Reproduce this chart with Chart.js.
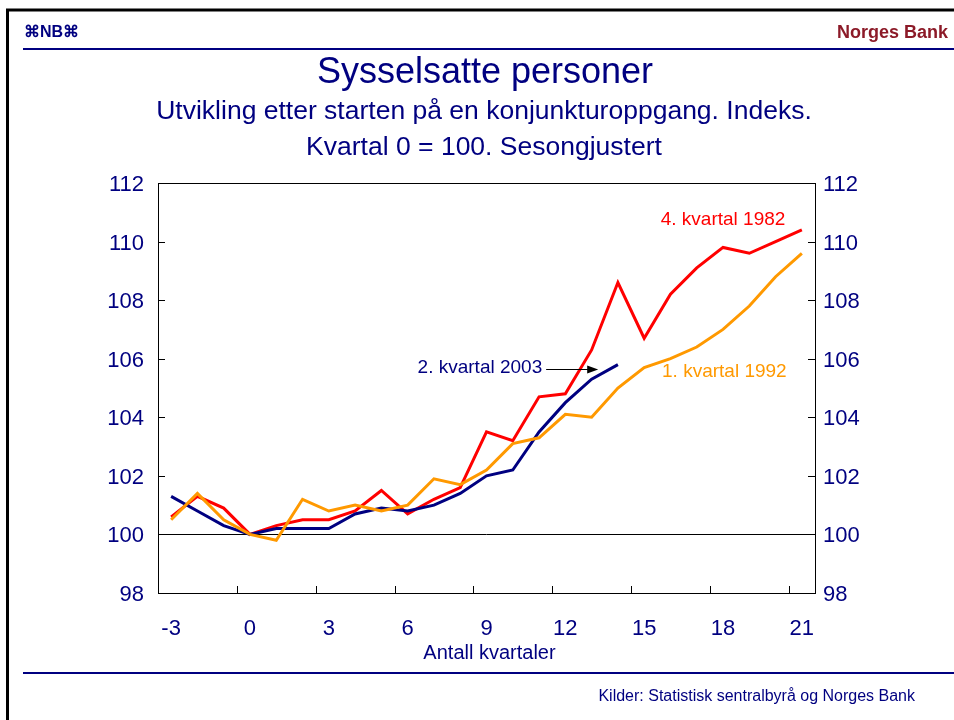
<!DOCTYPE html>
<html>
<head>
<meta charset="utf-8">
<script src="https://cdn.jsdelivr.net/npm/chart.js@4"></script>
<style>
  html, body { margin: 0; padding: 0; background: #fff; }
  #wrap { width: 954px; height: 720px; }
</style>
</head>
<body>
<div id="wrap"><canvas id="chart" width="954" height="720"></canvas></div>
<script>
/* eslint-disable no-undef */
const quarters = ['-3', '-2', '-1', '0', '1', '2', '3', '4', '5', '6', '7', '8', '9', '10',
  '11', '12', '13', '14', '15', '16', '17', '18', '19', '20', '21'];
const q4_1982 = [100.6, 101.3, 100.9, 100, 100.3, 100.5, 100.5, 100.8, 101.5, 100.7, 101.2, 101.6,
  103.5, 103.2, 104.7, 104.8, 106.3, 108.6, 106.7, 108.2, 109.1, 109.8, 109.6, 110.0, 110.4];
const q1_1992 = [100.5, 101.4, 100.5, 100, 99.8, 101.2, 100.8, 101.0, 100.8, 101.0, 101.9, 101.7,
  102.2, 103.1, 103.3, 104.1, 104.0, 105.0, 105.7, 106.0, 106.4, 107.0, 107.8, 108.8, 109.6];
const q2_2003 = [101.3, 100.8, 100.3, 100, 100.2, 100.2, 100.2, 100.7, 100.9, 100.8, 101.0, 101.4,
  102.0, 102.2, 103.5, 104.5, 105.3, 105.8];
const yMin = 98;
const yMax = 112;
const yStep = 2;

const navy = '#000080';
const font = '"Liberation Sans", Arial, sans-serif';

// series labels placed in data units (category index, value)
const seriesLabels = [
  { text: '4. kvartal 1982', x: 21, y: 110.75, color: '#ff0000', align: 'center' },
  { text: '1. kvartal 1992', x: 21.05, y: 105.55, color: '#ff9900', align: 'center' },
  { text: '2. kvartal 2003', x: 14.12, y: 105.7, color: navy, align: 'right' },
];
const arrow = { from: 14.27, to: 16.25, y: 105.66 };

const decor = {
  id: 'decor',
  beforeDraw(chart) {
    const ctx = chart.ctx;
    ctx.save();
    ctx.fillStyle = '#fff';
    ctx.fillRect(0, 0, chart.width, chart.height);
    ctx.restore();
  },
  beforeDatasetsDraw(chart) {
    const { ctx, chartArea: a, scales } = chart;
    const y100 = scales.y.getPixelForValue(100);
    ctx.save();
    ctx.strokeStyle = '#000';
    ctx.lineWidth = 1;
    ctx.beginPath();
    ctx.moveTo(a.left, Math.round(y100) + 0.5);
    ctx.lineTo(a.right, Math.round(y100) + 0.5);
    ctx.stroke();
    ctx.restore();
  },
  afterDraw(chart) {
    const { ctx, chartArea: a, scales } = chart;
    const xs = scales.x;
    const ys = scales.y;
    ctx.save();

    // plot frame
    ctx.strokeStyle = '#000';
    ctx.lineWidth = 1;
    ctx.strokeRect(Math.round(a.left) + 0.5, Math.round(a.top) + 0.5,
      Math.round(a.right - a.left), Math.round(a.bottom - a.top));

    // inward tick marks
    ctx.beginPath();
    ys.ticks.forEach((t) => {
      const py = Math.round(ys.getPixelForValue(t.value)) + 0.5;
      ctx.moveTo(a.left, py); ctx.lineTo(a.left + 7, py);
      ctx.moveTo(a.right, py); ctx.lineTo(a.right - 7, py);
    });
    for (let i = 1; i < quarters.length; i++) {
      if (Number(quarters[i]) % 3 !== 0) continue;
      const px = Math.round((xs.getPixelForValue(i - 1) + xs.getPixelForValue(i)) / 2) + 0.5;
      ctx.moveTo(px, a.bottom); ctx.lineTo(px, a.bottom - 7);
    }
    ctx.stroke();

    // series labels
    ctx.font = '19px ' + font;
    ctx.textBaseline = 'middle';
    seriesLabels.forEach((l) => {
      ctx.fillStyle = l.color;
      ctx.textAlign = l.align;
      ctx.fillText(l.text, xs.getPixelForValue(l.x), ys.getPixelForValue(l.y));
    });

    // arrow to the 2003 line
    const ax0 = xs.getPixelForValue(arrow.from);
    const ax1 = xs.getPixelForValue(arrow.to);
    const ay = Math.round(ys.getPixelForValue(arrow.y)) + 0.5;
    ctx.strokeStyle = '#000';
    ctx.beginPath();
    ctx.moveTo(ax0, ay); ctx.lineTo(ax1 - 8, ay);
    ctx.stroke();
    ctx.fillStyle = '#000';
    ctx.beginPath();
    ctx.moveTo(ax1, ay); ctx.lineTo(ax1 - 11, ay - 4); ctx.lineTo(ax1 - 11, ay + 4);
    ctx.closePath();
    ctx.fill();

    // page frame
    ctx.lineWidth = 3;
    ctx.beginPath();
    ctx.moveTo(7.5, 720); ctx.lineTo(7.5, 10); ctx.lineTo(954, 10);
    ctx.stroke();

    // header / footer rules
    ctx.strokeStyle = navy;
    ctx.lineWidth = 2;
    ctx.beginPath();
    ctx.moveTo(23, 49); ctx.lineTo(954, 49);
    ctx.moveTo(23, 673); ctx.lineTo(954, 673);
    ctx.stroke();

    // header texts
    ctx.textBaseline = 'middle';
    ctx.textAlign = 'left';
    ctx.fillStyle = navy;
    ctx.font = 'bold 16px ' + font;
    ctx.fillText('⌘NB⌘', 24, 33);
    ctx.textAlign = 'right';
    ctx.fillStyle = '#8c1a28';
    ctx.font = 'bold 18px ' + font;
    ctx.fillText('Norges Bank', 948, 33);

    // titles
    ctx.textAlign = 'center';
    ctx.fillStyle = navy;
    ctx.font = '36px ' + font;
    ctx.fillText('Sysselsatte personer', 485, 73);
    ctx.font = '26.5px ' + font;
    ctx.fillText('Utvikling etter starten på en konjunkturoppgang. Indeks.', 484, 112);
    ctx.fillText('Kvartal 0 = 100. Sesongjustert', 484, 148);

    // axis title and source
    ctx.font = '20px ' + font;
    ctx.fillText('Antall kvartaler', (a.left + a.right) / 2 + 3, 653);
    ctx.textAlign = 'right';
    ctx.font = '16px ' + font;
    ctx.fillText('Kilder: Statistisk sentralbyrå og Norges Bank', 915, 697);

    ctx.restore();
  },
};

const yAxis = (position, width, pad) => ({
  type: 'linear',
  position: position,
  min: yMin,
  max: yMax,
  ticks: {
    stepSize: yStep,
    padding: pad,
    labelOffset: 2,
    color: navy,
    font: { family: font, size: 22 },
  },
  grid: { display: false, drawTicks: false },
  border: { display: true, color: '#000', width: 1 },
  afterFit: (scale) => { scale.width = width; },
});

new Chart(document.getElementById('chart'), {
  type: 'line',
  data: {
    labels: quarters,
    datasets: [
      {
        label: '1. kvartal 1992',
        data: q1_1992,
        borderColor: '#ff9900',
        yAxisID: 'y',
      },
      {
        label: '2. kvartal 2003',
        data: q2_2003,
        borderColor: navy,
        yAxisID: 'y',
      },
      {
        label: '4. kvartal 1982',
        data: q4_1982,
        borderColor: '#ff0000',
        yAxisID: 'y',
      },
    ],
  },
  options: {
    responsive: false,
    animation: false,
    devicePixelRatio: 1,
    layout: { padding: { top: 183, left: 0, right: 0, bottom: 0 } },
    elements: {
      line: { borderWidth: 3, tension: 0, fill: false },
      point: { radius: 0 },
    },
    plugins: {
      legend: { display: false },
      tooltip: { enabled: false },
    },
    scales: {
      x: {
        type: 'category',
        offset: true,
        ticks: {
          autoSkip: false,
          maxRotation: 0,
          padding: 23,
          color: navy,
          font: { family: font, size: 22 },
          callback: (v, i) => (Number(quarters[i]) % 3 === 0 ? quarters[i] : ''),
        },
        grid: { display: false, drawTicks: false },
        border: { display: true, color: '#000', width: 1 },
        afterFit: (scale) => { scale.height = 127; },
      },
      y: yAxis('left', 158, 14),
      y2: yAxis('right', 139, 8),
    },
  },
  plugins: [decor],
});
</script>
</body>
</html>
